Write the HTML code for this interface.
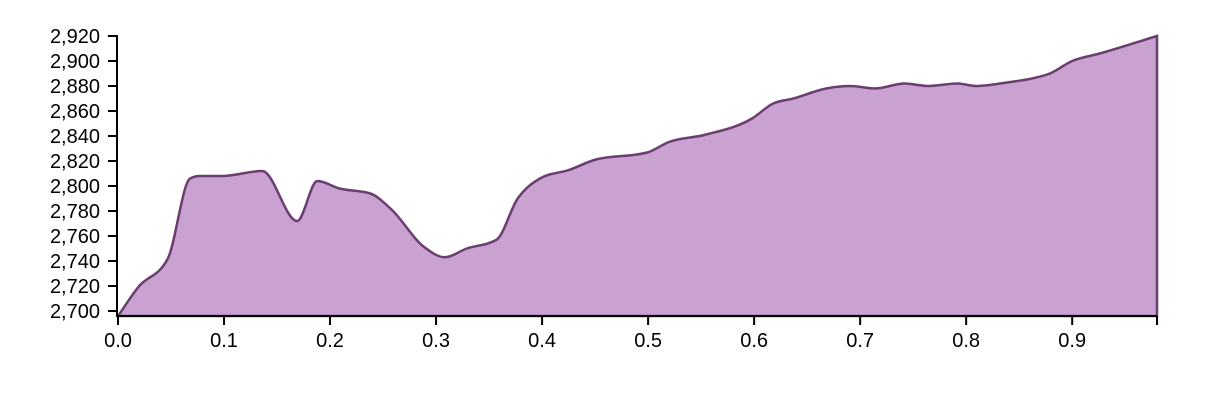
<!DOCTYPE html>
<html><head><meta charset="utf-8"><style>
body{margin:0;background:#fff;}
</style></head><body>
<svg id="chart" width="1216" height="400" xmlns="http://www.w3.org/2000/svg"></svg>
<script>
const xs=[0,0.019,0.047,0.068,0.077,0.098,0.136,0.169,0.188,0.209,0.238,0.257,0.289,0.308,0.329,0.357,0.377,0.398,0.426,0.45,0.5,0.519,0.554,0.598,0.618,0.637,0.668,0.691,0.714,0.742,0.764,0.792,0.809,0.84,0.862,0.879,0.9,0.926,0.98];
const ys=[2696,2719,2742,2806,2808,2808,2812,2772,2804,2798,2794,2782,2751,2743,2750,2757,2790,2806,2813,2821,2827,2835,2841,2854,2866,2870,2878,2880,2878,2882,2880,2882,2880,2883,2886,2890,2900,2906,2920];
const yTicks=[2700,2720,2740,2760,2780,2800,2820,2840,2860,2880,2900,2920];
const xTicks=[0,0.1,0.2,0.3,0.4,0.5,0.6,0.7,0.8,0.9];
const X0=118,X1=1157,XMAX=0.98,YB=316,YMIN=2696,PX=1.25;
const sx=v=>X0+(v/XMAX)*(X1-X0);
const sy=v=>YB-(v-YMIN)*PX;
const svg=document.getElementById('chart');
const NS='http://www.w3.org/2000/svg';
function mk(t,a){const e=document.createElementNS(NS,t);for(const k in a)e.setAttribute(k,a[k]);svg.appendChild(e);return e;}
const P=xs.map((x,i)=>[sx(x),sy(ys[i])]);
const n=P.length,d=[],m=[];
for(let i=0;i<n-1;i++)d.push((P[i+1][1]-P[i][1])/(P[i+1][0]-P[i][0]));
for(let i=0;i<n;i++){if(i==0)m.push(d[0]);else if(i==n-1)m.push(d[n-2]);else{if(d[i-1]*d[i]<=0)m.push(0);else{const h0=P[i][0]-P[i-1][0],h1=P[i+1][0]-P[i][0];const t=(d[i-1]*h1+d[i]*h0)/(h0+h1);const mm=Math.min(Math.abs(d[i-1]),Math.abs(d[i]));m.push(Math.sign(t)*Math.min(Math.abs(t),2*mm));}}}
let line='M'+P[0][0]+','+P[0][1];
for(let i=0;i<n-1;i++){const h=(P[i+1][0]-P[i][0])/3;line+=' C'+(P[i][0]+h)+','+(P[i][1]+m[i]*h)+' '+(P[i+1][0]-h)+','+(P[i+1][1]-m[i+1]*h)+' '+P[i+1][0]+','+P[i+1][1];}
const area=mk('path',{d:line+' L'+P[n-1][0]+','+YB+' L'+P[0][0]+','+YB+'Z',fill:'#c9a2d1',stroke:'#6b3e70','stroke-width':2.5});


const FONT={'font-family':'Liberation Sans, Arial, sans-serif','font-size':'20px',fill:'#000'};
const ya=mk('line',{x1:117,y1:sy(2920)-1,x2:117,y2:YB+0.5,stroke:'#000','stroke-width':2});


yTicks.forEach(v=>{const y=sy(v);
 const t=mk('line',{x1:108,x2:117,y1:y,y2:y,stroke:'#000','stroke-width':2});
 
 
 const l=mk('text',Object.assign({x:100,y:y+7,'text-anchor':'end'},FONT));l.textContent=v.toLocaleString('en-US');
 
 });
const xa=mk('line',{x1:117,x2:X1,y1:YB,y2:YB,stroke:'#000','stroke-width':2});


xTicks.concat([XMAX]).forEach((v,i)=>{const x=sx(v);
 const t=mk('line',{x1:x,x2:x,y1:YB,y2:YB+9,stroke:'#000','stroke-width':2});
 
 
 if(i<xTicks.length){const l=mk('text',Object.assign({x:x,y:YB+31,'text-anchor':'middle'},FONT));l.textContent=v.toFixed(1);
 
 }});
</script>
</body></html>
